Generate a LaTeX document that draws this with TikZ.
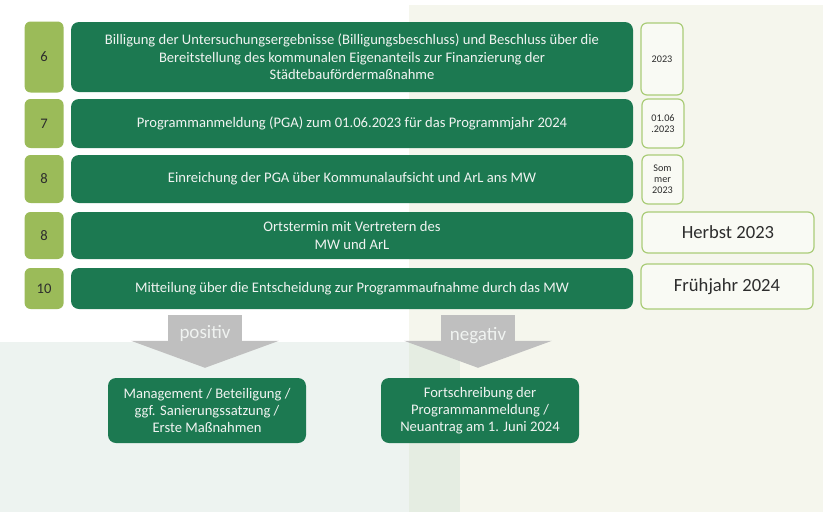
\documentclass[tikz,border=0pt]{standalone}
\usepackage{fontspec}
\setmainfont{Carlito}
\usetikzlibrary{positioning,arrows.meta}

\definecolor{bargreen}{RGB}{28,121,81}
\definecolor{numgreen}{RGB}{155,187,89}
\definecolor{dateline}{RGB}{170,204,120}
\definecolor{datefill}{RGB}{249,250,244}
\definecolor{cream}{RGB}{245,246,237}
\definecolor{mint}{RGB}{237,243,240}
\definecolor{overlap}{RGB}{229,237,226}
\definecolor{arrowgray}{RGB}{191,191,191}
\definecolor{lighttext}{RGB}{240,243,241}
\definecolor{darktext}{RGB}{45,45,45}

\begin{document}
\begin{tikzpicture}[x=1pt,y=-1pt,
    bar/.style={fill=bargreen, rounded corners=8pt, text=lighttext, align=center,
      inner sep=0pt, minimum width=562pt, font=\fontsize{14.6}{17.5}\selectfont},
    numbox/.style={fill=numgreen, rounded corners=6pt, text=darktext, inner sep=0pt,
      minimum width=39pt, font=\fontsize{14.6}{17}\selectfont},
    datebox/.style={draw=dateline, fill=datefill, line width=1.2pt, rounded corners=6pt,
      text=darktext, align=center, inner sep=0pt, font=\fontsize{10.2}{11.2}\selectfont},
    bigdate/.style={datebox, minimum width=172pt, font=\fontsize{18.6}{20}\selectfont},
    resultbox/.style={fill=bargreen, rounded corners=8pt, text=lighttext, align=center,
      inner sep=0pt, minimum width=198pt, minimum height=65pt,
      font=\fontsize{14.6}{17}\selectfont},
    blockarrow/.style={arrowgray, line width=74pt,
      -{Triangle[width=147pt,length=27pt]}, shorten <=6pt, shorten >=10pt},
    arrowlabel/.style={text=lighttext, inner sep=0pt, font=\fontsize{19}{21}\selectfont}]

  \useasboundingbox (0,0) rectangle (823,512);
  % background panels
  \fill[cream] (409,5) rectangle (823,512);
  \fill[mint] (0,342) rectangle (409,512);
  \fill[overlap] (409,342) rectangle (460,512);

  % steps
  \node[bar, minimum height=70pt] (bar6) at (352,57)
    {Billigung der Untersuchungsergebnisse (Billigungsbeschluss) und Beschluss über die\\
     Bereitstellung des kommunalen Eigenanteils zur Finanzierung der\\
     Städtebaufördermaßnahme};
  \node[bar, minimum height=49pt] (bar7) at (352,123.5)
    {Programmanmeldung (PGA) zum 01.06.2023 für das Programmjahr 2024};
  \node[bar, minimum height=48pt] (bar8a) at (352,179)
    {Einreichung der PGA über Kommunalaufsicht und ArL ans MW};
  \node[bar, minimum height=47pt] (bar8b) at (352,235.5)
    {Ortstermin mit Vertretern des\\MW und ArL};
  \node[bar, minimum height=41pt] (bar10) at (352,288.5)
    {Mitteilung über die Entscheidung zur Programmaufnahme durch das MW};

  % step numbers
  \node[numbox, minimum height=71pt, left=7pt of bar6] (num6) {6};
  \node[numbox, minimum height=49pt, left=7pt of bar7] (num7) {7};
  \node[numbox, minimum height=48pt, left=7pt of bar8a] (num8a) {8};
  \node[numbox, minimum height=47pt, left=7pt of bar8b] (num8b) {8};
  \node[numbox, minimum height=41pt, left=7pt of bar10] (num10) {10};

  % dates
  \node[datebox, minimum width=42pt, minimum height=72pt] (date6) at (662,59) {2023};
  \node[datebox, minimum width=42pt, minimum height=49pt] (date7) at (663,123.5) {01.06\\.2023};
  \node[datebox, minimum width=41pt, minimum height=49pt] (date8a) at (662.5,179.5) {Som\\mer\\2023};
  \node[bigdate, minimum height=41pt] (date8b) at (728,232.5) {Herbst 2023};
  \node[bigdate, minimum height=45pt] (date10) at (727,286.5) {Frühjahr 2024};

  % outcomes
  \node[resultbox] (pos) at (207,410.5)
    {Management / Beteiligung /\\ggf. Sanierungssatzung /\\Erste Maßnahmen};
  \node[resultbox] (neg) at (480,410.5)
    {Fortschreibung der\\Programmanmeldung /\\Neuantrag am 1. Juni 2024};

  \draw[blockarrow] ([xshift=-2pt]pos.north |- bar10.south) -- ([xshift=-2pt]pos.north);
  \draw[blockarrow] ([xshift=-2pt]neg.north |- bar10.south) -- ([xshift=-2pt]neg.north);
  \node[arrowlabel, above=44pt of pos.north, anchor=center, xshift=-2pt] (poslabel) {positiv};
  \node[arrowlabel, above=42pt of neg.north, anchor=center, xshift=-2pt] (neglabel) {negativ};
\end{tikzpicture}
\end{document}
